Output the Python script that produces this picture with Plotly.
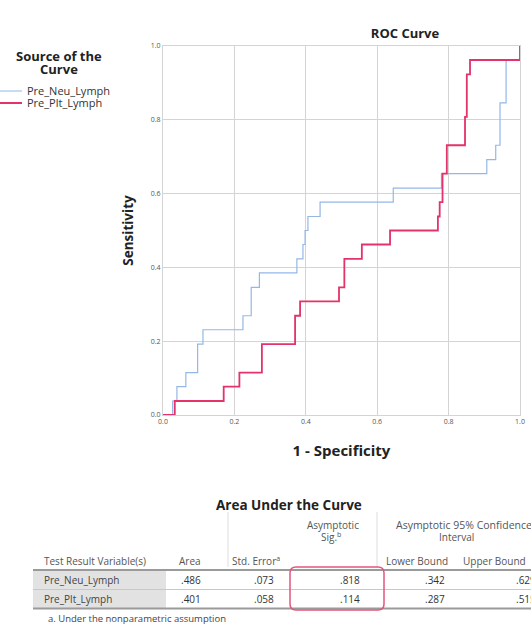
import plotly.graph_objects as go

# ---------------- data ----------------
neu_fpr = [0.0, 0.027, 0.039, 0.064, 0.097, 0.112, 0.224, 0.247, 0.270, 0.375, 0.392,
           0.398, 0.406, 0.440, 0.645, 0.780, 0.907, 0.932, 0.944, 0.961, 1.0]
neu_tpr = [0.0, 0.038, 0.077, 0.115, 0.192, 0.231, 0.269, 0.346, 0.385, 0.423, 0.462,
           0.500, 0.538, 0.577, 0.615, 0.654, 0.692, 0.731, 0.846, 0.962, 1.0]

plt_fpr = [0.0, 0.033, 0.170, 0.214, 0.277, 0.370, 0.384, 0.493, 0.508, 0.557, 0.636,
           0.770, 0.775, 0.783, 0.795, 0.846, 0.851, 0.860, 1.0]
plt_tpr = [0.0, 0.038, 0.077, 0.115, 0.192, 0.269, 0.308, 0.346, 0.423, 0.462, 0.500,
           0.538, 0.577, 0.654, 0.731, 0.808, 0.923, 0.962, 1.0]

series_names = ["Pre_Neu_Lymph", "Pre_Plt_Lymph"]
legend_title = ["Source of the", "Curve"]
tick_vals = [0.0, 0.2, 0.4, 0.6, 0.8, 1.0]
tick_text = ["0.0", "0.2", "0.4", "0.6", "0.8", "1.0"]

# AUC table
table_title = "Area Under the Curve"
sig_header = ["Asymptotic", "Sig.<sup>b</sup>"]
ci_header = ["Asymptotic 95% Confidence", "Interval"]
col_headers = ["Test Result Variable(s)", "Area", "Std. Error<sup>a</sup>",
               "Lower Bound", "Upper Bound"]
row_vars = ["Pre_Neu_Lymph", "Pre_Plt_Lymph"]
area = [".486", ".401"]
std_err = [".073", ".058"]
asym_sig = [".818", ".114"]
lower_bound = [".342", ".287"]
upper_bound = [".629", ".515"]
footnote = "a. Under the nonparametric assumption"

# ---------------- layout helpers ----------------
W, H = 531, 628
def px(x):
    return x / W
def py(y):
    return 1 - y / H

FONT = "Open Sans"
BLUE = "#94b8e6"
RED = "#e3336a"
GRID = "#d4d4d4"

fig = go.Figure()
fig.add_trace(go.Scatter(x=neu_fpr, y=neu_tpr, mode="lines", name=series_names[0],
                         legend="legend",
                         line=dict(color=BLUE, width=1.2, shape="hv")))
fig.add_trace(go.Scatter(x=plt_fpr, y=plt_tpr, mode="lines", name=series_names[1],
                         legend="legend2",
                         line=dict(color=RED, width=1.8, shape="hv")))

axis_common = dict(range=[0, 1], tickvals=tick_vals, ticktext=tick_text,
                   showgrid=True, gridcolor=GRID, gridwidth=1,
                   showline=True, mirror=True, linecolor=GRID, linewidth=1,
                   zeroline=True, zerolinecolor="#a8a8a8", zerolinewidth=1.5,
                   ticks="", tickfont=dict(family=FONT, size=7, color="#555"),
                   automargin=False, fixedrange=True)

legend_common = dict(xanchor="left", yanchor="middle", bgcolor="rgba(0,0,0,0)",
                     itemwidth=30, font=dict(family=FONT, size=11, color="#333"))

fig.update_layout(
    width=W, height=H,
    margin=dict(l=0, r=0, t=0, b=0, autoexpand=False),
    paper_bgcolor="white", plot_bgcolor="white",
    font=dict(family=FONT, color="#222"),
    title=dict(text="<b>ROC Curve</b>", x=px(405), y=py(33), xanchor="center",
               yanchor="middle", font=dict(family=FONT, size=13, color="#222")),
    xaxis=dict(domain=[px(163), px(520)],
               title=dict(text="<b>1 - Specificity</b>", standoff=20,
                          font=dict(family=FONT, size=15, color="#222")),
               **axis_common),
    yaxis=dict(domain=[py(415), py(46)],
               title=dict(text="<b>Sensitivity</b>", standoff=14,
                          font=dict(family=FONT, size=13.5, color="#222")),
               **axis_common),
    showlegend=True,
    legend=dict(x=px(-13), y=py(91), **legend_common),
    legend2=dict(x=px(-13), y=py(103), **legend_common),
)

ann = []
def txt(text, x, y, anchor="left", size=9, color="#555", bold=False):
    ann.append(dict(text=("<b>%s</b>" % text) if bold else text, x=px(x), y=py(y),
                    xref="paper", yref="paper", xanchor=anchor, yanchor="middle",
                    showarrow=False, font=dict(family=FONT, size=size, color=color),
                    align="center"))

# legend title (centered over the legend entries)
txt(legend_title[0], 59, 56, "center", size=13, color="#222", bold=True)
txt(legend_title[1], 59, 69, "center", size=13, color="#222", bold=True)

# table title & headers
txt(table_title, 289, 505, "center", size=13.5, color="#222", bold=True)
txt(sig_header[0], 333, 525, "center", size=10)
txt(sig_header[1], 331, 537, "center", size=10)
txt(ci_header[0], 464, 525, "center", size=10.5)
txt(ci_header[1], 456, 537, "center", size=10)
txt(col_headers[0], 42, 561, "left", size=10)
txt(col_headers[1], 203, 561, "right", size=10)
txt(col_headers[2], 282, 561, "right", size=10)
txt(col_headers[3], 417, 561, "center", size=10)
txt(col_headers[4], 494, 561, "center", size=10)

row_y = [580, 599]
for i in range(len(row_vars)):
    txt(row_vars[i], 42, row_y[i], "left", size=10, color="#444")
    txt(area[i], 203, row_y[i], "right", size=10, color="#333")
    txt(std_err[i], 276, row_y[i], "right", size=10, color="#333")
    txt(asym_sig[i], 362, row_y[i], "right", size=10, color="#333")
    txt(lower_bound[i], 447, row_y[i], "right", size=10, color="#333")
    txt(upper_bound[i], 538, row_y[i], "right", size=10, color="#333")
txt(footnote, 46, 618, "left", size=9.5, color="#444")
fig.update_layout(annotations=ann)

shapes = []
def rect(x0, y0, x1, y1, fill):
    shapes.append(dict(type="rect", xref="paper", yref="paper", x0=px(x0), x1=px(x1),
                       y0=py(y1), y1=py(y0), fillcolor=fill, line=dict(width=0),
                       layer="below"))
def hline(x0, x1, y, color, width):
    shapes.append(dict(type="line", xref="paper", yref="paper", x0=px(x0), x1=px(x1),
                       y0=py(y), y1=py(y), line=dict(color=color, width=width)))
def vline(x, y0, y1, color, width):
    shapes.append(dict(type="line", xref="paper", yref="paper", x0=px(x), x1=px(x),
                       y0=py(y0), y1=py(y1), line=dict(color=color, width=width)))

rect(33, 571, 166, 589, "#e2e2e2")
rect(33, 590, 166, 608, "#e2e2e2")
hline(33, 531, 570, "#9a9a9a", 2)
hline(33, 531, 589.5, "#c8c8c8", 1)
hline(33, 531, 608.5, "#9a9a9a", 2)
vline(228, 512, 567, "#dddddd", 1)
vline(377, 512, 567, "#dddddd", 1)

# rounded highlight box around the significance column
x0, x1, y0, y1, r = px(290), px(384), py(567), py(610), 6
rx, ry = r / W, r / H
path = (f"M {x0+rx},{y0} L {x1-rx},{y0} Q {x1},{y0} {x1},{y0-ry} "
        f"L {x1},{y1+ry} Q {x1},{y1} {x1-rx},{y1} L {x0+rx},{y1} "
        f"Q {x0},{y1} {x0},{y1+ry} L {x0},{y0-ry} Q {x0},{y0} {x0+rx},{y0} Z")
shapes.append(dict(type="path", xref="paper", yref="paper", path=path,
                   line=dict(color="#e2557c", width=1.5)))
fig.update_layout(shapes=shapes)

# remove the default page margin so the figure fills the window exactly
page_css = ("document.body.style.margin='0px';"
            "document.body.style.overflow='hidden';")
fig.write_html("out.html", post_script=page_css,
               config={"displayModeBar": False, "staticPlot": False})
